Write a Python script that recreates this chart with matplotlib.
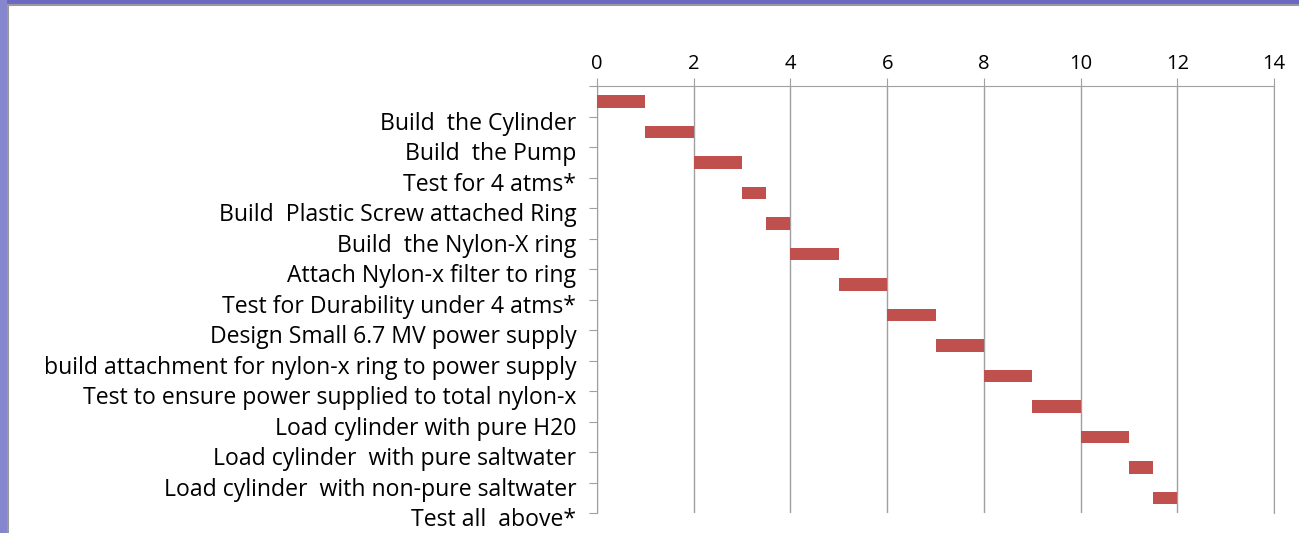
import matplotlib.pyplot as plt
import matplotlib.transforms as mtrans
from matplotlib.patches import Rectangle

# Task list (labels sit on the category boundaries, as in the original slide)
tasks = [
    "Build  the Cylinder",
    "Build  the Pump",
    "Test for 4 atms*",
    "Build  Plastic Screw attached Ring",
    "Build  the Nylon-X ring",
    "Attach Nylon-x filter to ring",
    "Test for Durability under 4 atms*",
    "Design Small 6.7 MV power supply",
    "build attachment for nylon-x ring to power supply",
    "Test to ensure power supplied to total nylon-x",
    "Load cylinder with pure H20",
    "Load cylinder  with pure saltwater",
    "Load cylinder  with non-pure saltwater",
    "Test all  above*",
]
start = [0, 1, 2, 3, 3.5, 4, 5, 6, 7, 8, 9, 10, 11, 11.5]
duration = [1, 1, 1, 0.5, 0.5, 1, 1, 1, 1, 1, 1, 1, 0.5, 0.5]
x_ticks = [0, 2, 4, 6, 8, 10, 12, 14]

plt.rcParams['font.family'] = ['Open Sans', 'DejaVu Sans']

fig = plt.figure(figsize=(12.99, 5.33), dpi=100)
fig.patch.set_facecolor('white')

# slide border (purple strips on the top and left)
fig.patches.append(Rectangle((0, 0.992), 1, 0.008, transform=fig.transFigure,
                             facecolor='#6a6ac4', edgecolor='none', zorder=0))
fig.patches.append(Rectangle((0, 0), 0.0055, 1, transform=fig.transFigure,
                             facecolor='#8686cf', edgecolor='none', zorder=0))
fig.add_artist(plt.Line2D([0.0058, 0.0058], [0, 0.991], transform=fig.transFigure,
                          color='#9a9a9a', lw=1.5))
fig.add_artist(plt.Line2D([0.0058, 1], [0.991, 0.991], transform=fig.transFigure,
                          color='#9a9a9a', lw=1.5))

ax = fig.add_axes([0.4596, 0.0375, 0.5212, 0.8011])
ypos = list(range(len(tasks)))
ax.barh(ypos, duration, left=start, height=0.41, color='#C0504D', zorder=3)

ax.set_xlim(0, 14)
ax.set_ylim(len(tasks) - 0.5, -0.5)
ax.xaxis.tick_top()
ax.set_xticks(x_ticks)
ax.tick_params(axis='x', length=6, color='#a0a0a0', labelsize=14.5, pad=3)
ax.grid(axis='x', color='#a0a0a0', lw=1, zorder=0)

ax.set_yticks([y - 0.5 for y in ypos] + [len(tasks) - 0.5])
ax.set_yticklabels([''] + tasks)
ax.tick_params(axis='y', length=6, color='#a0a0a0', labelsize=16.6, pad=9)

# labels sit a little below their tick marks in the original
offset = mtrans.ScaledTranslation(0, -3 / 72, fig.dpi_scale_trans)
for lbl in ax.get_yticklabels():
    lbl.set_transform(lbl.get_transform() + offset)

for side in ['top', 'left', 'right']:
    ax.spines[side].set_color('#a0a0a0')
ax.spines['bottom'].set_visible(False)

fig.savefig('out.png', dpi=100)
